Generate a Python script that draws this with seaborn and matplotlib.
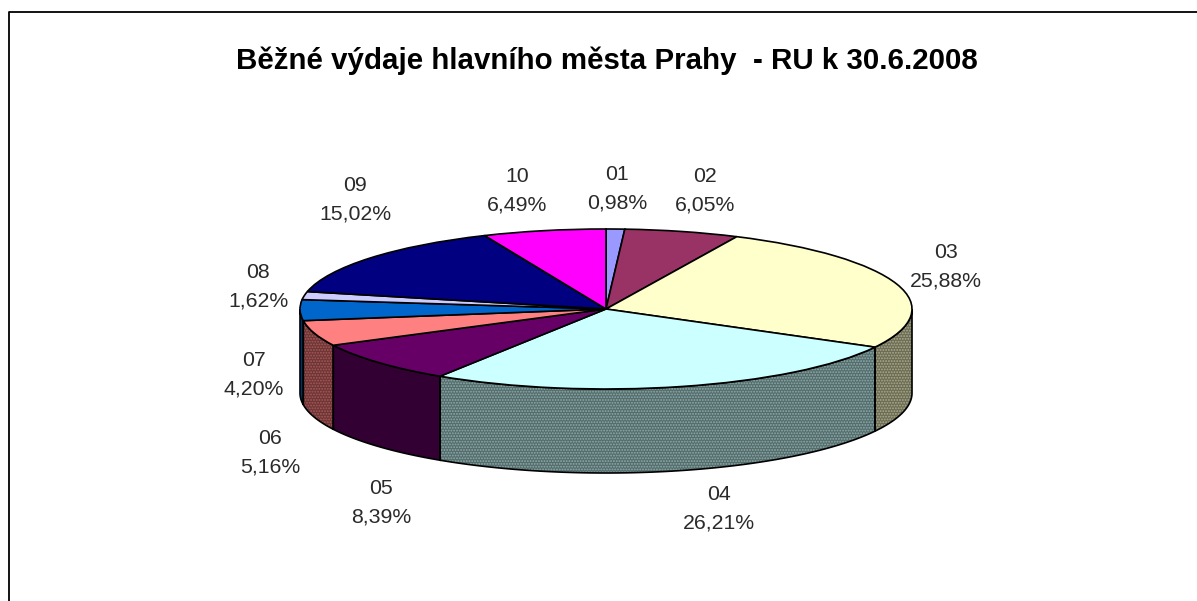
import numpy as np
import seaborn as sns
import matplotlib
matplotlib.use("Agg")
import matplotlib.pyplot as plt
from matplotlib.lines import Line2D

# data
codes = ["01", "02", "03", "04", "05", "06", "07", "08", "09", "10"]
values = [0.98, 6.05, 25.88, 26.21, 8.39, 5.16, 4.20, 1.62, 15.02, 6.49]
value_labels = ["0,98%", "6,05%", "25,88%", "26,21%", "8,39%", "5,16%", "4,20%", "1,62%", "15,02%", "6,49%"]
title = "Běžné výdaje hlavního města Prahy  - RU k 30.6.2008"

# style and layout, all in reference pixels
colors = sns.color_palette(["#9999FF", "#993366", "#FFFFCC", "#CCFFFF", "#660066",
                            "#FF8080", "#0066CC", "#CCCCFF", "#000080", "#FF00FF"])
dithered = [True, False, True, True, False, True, False, True, False, False]
label_x = [617, 705, 946, 719, 381, 270, 254, 258, 355, 517]
label_y = [189, 191, 267, 509, 503, 453, 375, 287, 200, 191]
W, H = 1197, 601
cx, cy, rx, ry, depth = 606, 309, 306, 80, 84

sns.set_theme(style="white")
plt.rcParams["font.family"] = ["Liberation Sans", "DejaVu Sans"]
plt.rcParams["hatch.linewidth"] = 0.9

fig = plt.figure(figsize=(W / 100, H / 100), dpi=100, facecolor="white")
ax = fig.add_axes([0, 0, 1, 1])

ax.pie(values, colors=colors, startangle=90, counterclock=False, radius=1,
       wedgeprops={"edgecolor": "black", "linewidth": 1.2, "zorder": 5})
ax.set_aspect("auto")
ax.set_xlim(-cx / rx, (W - cx) / rx)
ax.set_ylim((cy - H) / ry, cy / ry)

# side wall: only the part of each slice on the front half of the ellipse
edges = np.cumsum([0] + values) / sum(values) * 2 * np.pi
drop = depth / ry
for i, color in enumerate(colors):
    start = max(edges[i], np.pi / 2)
    end = min(edges[i + 1], 3 * np.pi / 2)
    if end <= start:
        continue
    t = np.linspace(start, end, 80)
    x = np.concatenate([np.sin(t), np.sin(t[::-1])])
    y = np.concatenate([np.cos(t), np.cos(t[::-1]) - drop])
    shade = tuple(c * 0.5 for c in color)
    if dithered[i]:
        spot = tuple(min(1, c * 0.68) for c in color)
        dark = tuple(c * 0.42 for c in color)
        ax.fill(x, y, facecolor=dark, edgecolor=spot, hatch="......", linewidth=0, zorder=2)
    else:
        ax.fill(x, y, facecolor=shade, edgecolor="none", zorder=2)
    ax.fill(x, y, fill=False, edgecolor="black", linewidth=1.2, zorder=3)

for code, text, px, py in zip(codes, value_labels, label_x, label_y):
    fig.text(px / W, 1 - py / H, f"{code}\n{text}", ha="center", va="center",
             fontsize=15.3, color="#2a2a2a", linespacing=1.66)

fig.text(607 / W, 1 - 61 / H, title, ha="center", va="center",
         fontsize=21.25, fontweight="bold", color="black")

# frame of the chart area: only left and top show in the crop
fig.add_artist(Line2D([9 / W, 9 / W, 1], [0, 1 - 12 / H, 1 - 12 / H],
                      transform=fig.transFigure, color="black", linewidth=1.3))

fig.savefig("out.png", dpi=100)
